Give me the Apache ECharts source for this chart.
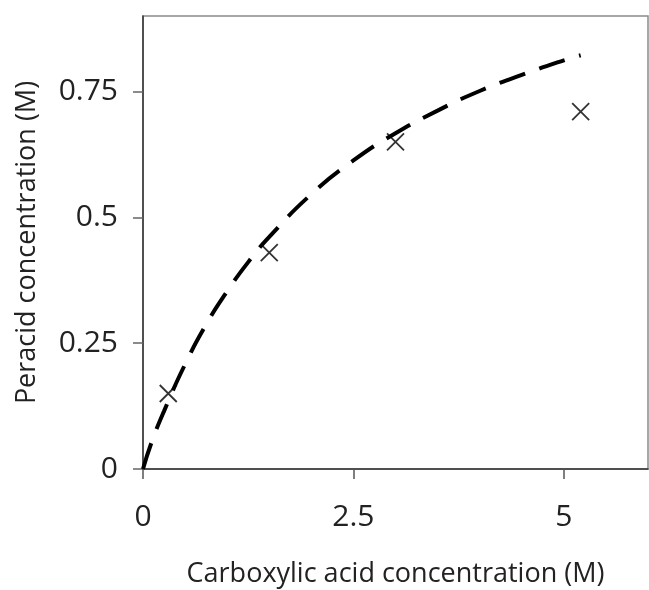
<!DOCTYPE html>
<html>
<head>
<meta charset="utf-8">
<script src="https://cdn.jsdelivr.net/npm/echarts@6/dist/echarts.min.js"></script>
<style>html,body{margin:0;padding:0;background:#fff}#c{width:649px;height:590px}</style>
</head>
<body>
<div id="c"></div>
<script>
// Measured data points (×)
const measuredX = [0.3, 1.5, 3.0, 5.2];
const measuredY = [0.15, 0.43, 0.65, 0.71];
// Fitted curve (dashed)
const curveX = [0, 0.1, 0.25, 0.5, 0.75, 1.0, 1.25, 1.5, 2.0, 2.5, 3.0, 3.5, 4.0, 4.5, 5.0, 5.2];
const curveY = [0, 0.052, 0.115, 0.208, 0.287, 0.353, 0.411, 0.461, 0.546, 0.613, 0.667, 0.712, 0.751, 0.783, 0.812, 0.822];
// Tick labels
const xTicks = [0, 2.5, 5];
const yTicks = [0, 0.25, 0.5, 0.75];

const FONT = 'Open Sans';
const chart = echarts.init(document.getElementById('c'));
chart.setOption({
  animation: false,
  grid: {left: 143, right: 1, top: 16, bottom: 121, containLabel: false, outerBoundsMode: 'none',
         show: true, borderColor: '#8a8a8a', borderWidth: 1.5, backgroundColor: 'transparent'},
  xAxis: {
    type: 'value', min: 0, max: 6,
    name: 'Carboxylic acid concentration (M)', nameLocation: 'middle', nameGap: 92,
    nameTextStyle: {fontFamily: FONT, fontSize: 27, color: '#222'},
    axisLine: {show: true, lineStyle: {color: '#333', width: 1.5}},
    axisTick: {show: true, inside: false, length: 10, lineStyle: {color: '#555', width: 1.5}, customValues: xTicks},
    axisLabel: {customValues: xTicks, margin: 33, fontFamily: FONT, fontSize: 30, color: '#222', formatter: v => String(v)},
    splitLine: {show: false}
  },
  yAxis: {
    type: 'value', min: 0, max: 0.9,
    name: 'Peracid concentration (M)', nameLocation: 'middle', nameGap: 102,
    nameTextStyle: {fontFamily: FONT, fontSize: 27, color: '#222'},
    axisLine: {show: true, lineStyle: {color: '#333', width: 1.5}},
    axisTick: {show: true, inside: false, length: 10, lineStyle: {color: '#666', width: 1.5}, customValues: yTicks},
    axisLabel: {customValues: yTicks, margin: 25, fontFamily: FONT, fontSize: 30, color: '#222', formatter: v => String(v)},
    splitLine: {show: false}
  },
  series: [
    {
      type: 'line',
      data: curveX.map((x, i) => [x, curveY[i]]),
      showSymbol: false, smooth: true,
      lineStyle: {color: '#000', width: 4, type: [27, 15], cap: 'butt'},
      z: 2
    },
    {
      type: 'scatter',
      data: measuredX.map((x, i) => [x, measuredY[i]]),
      symbol: 'path://M0,0L10,10M10,0L0,10',
      symbolSize: 17,
      itemStyle: {color: 'none', borderColor: '#000', borderWidth: 1.8},
      z: 3
    }
  ]
});
</script>
</body>
</html>
